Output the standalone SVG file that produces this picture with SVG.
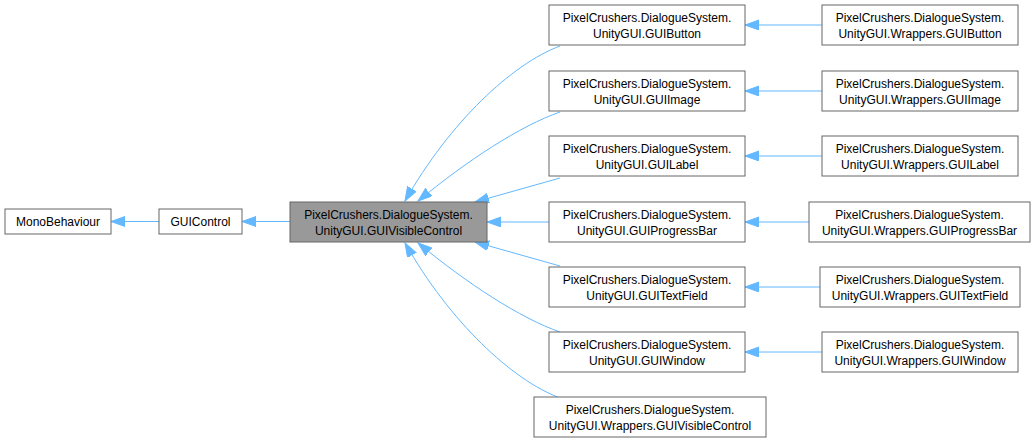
<svg xmlns="http://www.w3.org/2000/svg" width="1035" height="443" viewBox="0 0 1035 443">
<style>
.n rect{fill:#fff;stroke:#666;stroke-width:1}
.n.hl rect{fill:#999}
.n text{font-family:"Liberation Sans",Arial,sans-serif;font-size:12px;fill:#000;text-anchor:middle}
.e path{fill:none;stroke:#63b8ff;stroke-width:1;marker-end:url(#ah)}
</style>
<defs>
<marker id="ah" markerUnits="userSpaceOnUse" markerWidth="15" markerHeight="11" refX="14" refY="5" orient="auto">
<path d="M0,0 L14,5 L0,10 z" fill="#63b8ff" stroke="#63b8ff" stroke-width="1"/>
</marker>
</defs>
<rect width="1035" height="443" fill="#fff"/>
<g class="e" id="edges">
<path d="M159,221.5 L111,221.5"/>
<path d="M290,221.5 L242,221.5"/>
<path d="M560,46 C512,64 450,122 405,201"/>
<path d="M560,112 C520,126 468,160 418,201"/>
<path d="M560,178 L475,202"/>
<path d="M549,222 L487,222"/>
<path d="M560,266 L475,242"/>
<path d="M560,332 C520,318 468,284 418,243"/>
<path d="M560,398 C512,380 450,322 405,243"/>
<path d="M822,25 L745,25"/>
<path d="M822,91 L745,91"/>
<path d="M822,156 L745,156"/>
<path d="M809,222 L745,222"/>
<path d="M820,287 L745,287"/>
<path d="M822,352 L745,352"/>
</g>
<g class="n" id="MonoBehaviour"><rect x="5" y="209" width="106" height="25"/><text x="58" y="226">MonoBehaviour</text></g>
<g class="n" id="GUIControl"><rect x="159" y="209" width="83" height="25"/><text x="200.5" y="226">GUIControl</text></g>
<g class="n hl" id="GUIVisibleControl"><rect x="290" y="202" width="197" height="40"/><text x="388.5" y="219">PixelCrushers.DialogueSystem.</text><text x="388.5" y="234.5">UnityGUI.GUIVisibleControl</text></g>
<g class="n" id="GUIButton"><rect x="549" y="5" width="196" height="40"/><text x="647" y="22">PixelCrushers.DialogueSystem.</text><text x="647" y="37.5">UnityGUI.GUIButton</text></g>
<g class="n" id="GUIImage"><rect x="549" y="71" width="196" height="40"/><text x="647" y="88">PixelCrushers.DialogueSystem.</text><text x="647" y="103.5">UnityGUI.GUIImage</text></g>
<g class="n" id="GUILabel"><rect x="549" y="136" width="196" height="40"/><text x="647" y="153">PixelCrushers.DialogueSystem.</text><text x="647" y="168.5">UnityGUI.GUILabel</text></g>
<g class="n" id="GUIProgressBar"><rect x="549" y="202" width="196" height="40"/><text x="647" y="219">PixelCrushers.DialogueSystem.</text><text x="647" y="234.5">UnityGUI.GUIProgressBar</text></g>
<g class="n" id="GUITextField"><rect x="549" y="267" width="196" height="40"/><text x="647" y="284">PixelCrushers.DialogueSystem.</text><text x="647" y="299.5">UnityGUI.GUITextField</text></g>
<g class="n" id="GUIWindow"><rect x="549" y="332" width="196" height="40"/><text x="647" y="349">PixelCrushers.DialogueSystem.</text><text x="647" y="364.5">UnityGUI.GUIWindow</text></g>
<g class="n" id="WGUIVisibleControl"><rect x="534" y="397" width="232" height="40"/><text x="650" y="414">PixelCrushers.DialogueSystem.</text><text x="650" y="429.5">UnityGUI.Wrappers.GUIVisibleControl</text></g>
<g class="n" id="WGUIButton"><rect x="822" y="5" width="196" height="40"/><text x="920" y="22">PixelCrushers.DialogueSystem.</text><text x="920" y="37.5">UnityGUI.Wrappers.GUIButton</text></g>
<g class="n" id="WGUIImage"><rect x="822" y="71" width="196" height="40"/><text x="920" y="88">PixelCrushers.DialogueSystem.</text><text x="920" y="103.5">UnityGUI.Wrappers.GUIImage</text></g>
<g class="n" id="WGUILabel"><rect x="822" y="136" width="196" height="40"/><text x="920" y="153">PixelCrushers.DialogueSystem.</text><text x="920" y="168.5">UnityGUI.Wrappers.GUILabel</text></g>
<g class="n" id="WGUIProgressBar"><rect x="809" y="202" width="221" height="40"/><text x="919.5" y="219">PixelCrushers.DialogueSystem.</text><text x="919.5" y="234.5">UnityGUI.Wrappers.GUIProgressBar</text></g>
<g class="n" id="WGUITextField"><rect x="820" y="267" width="200" height="40"/><text x="920" y="284">PixelCrushers.DialogueSystem.</text><text x="920" y="299.5">UnityGUI.Wrappers.GUITextField</text></g>
<g class="n" id="WGUIWindow"><rect x="822" y="332" width="196" height="40"/><text x="920" y="349">PixelCrushers.DialogueSystem.</text><text x="920" y="364.5">UnityGUI.Wrappers.GUIWindow</text></g>
</svg>
